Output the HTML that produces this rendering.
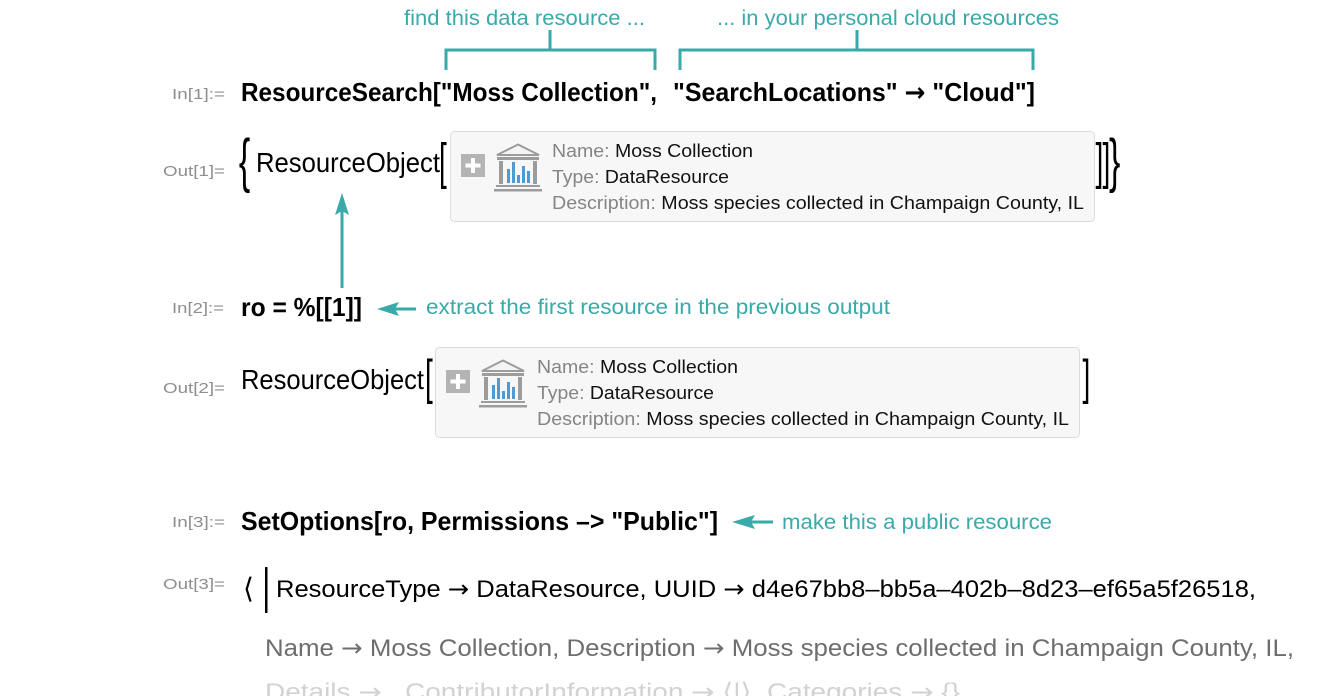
<!DOCTYPE html>
<html>
<head>
<meta charset="utf-8">
<style>
  html,body{margin:0;padding:0;background:#fff;}
  svg{display:block;}
  .lbl{font-family:"Liberation Sans",sans-serif;font-size:15px;fill:#8e8e8e;}
  .code{font-family:"Liberation Sans",sans-serif;font-size:26px;font-weight:bold;fill:#000;}
  .reg{font-family:"Liberation Sans",sans-serif;font-size:28px;fill:#000;}
  .ann{font-family:"Liberation Sans",sans-serif;font-size:21px;fill:#3aa9aa;}
  .box{font-family:"Liberation Sans",sans-serif;font-size:18px;fill:#111;}
  .boxk{fill:#858585;}
  .out{font-family:"Liberation Sans","DejaVu Sans",sans-serif;font-size:24px;}
  .br{font-family:"Liberation Sans",sans-serif;fill:#000;}
  .ar{font-family:"DejaVu Sans",sans-serif;}
</style>
</head>
<body>
<svg width="1340" height="696" viewBox="0 0 1340 696" xmlns="http://www.w3.org/2000/svg">
  <!-- Annotations top -->
  <text class="ann" x="404" y="25" textLength="241" lengthAdjust="spacingAndGlyphs">find this data resource ...</text>
  <text class="ann" x="717" y="25" textLength="342" lengthAdjust="spacingAndGlyphs">... in your personal cloud resources</text>
  <g stroke="#3aa9aa" stroke-width="3" fill="none" stroke-linecap="butt">
    <line x1="550" y1="30" x2="550" y2="50"/>
    <polyline points="446,70 446,50 655,50 655,70"/>
    <line x1="857" y1="30" x2="857" y2="50"/>
    <polyline points="680,70 680,50 1033,50 1033,70"/>
  </g>

  <!-- In[1] -->
  <text class="lbl" x="172" y="99" textLength="53" lengthAdjust="spacingAndGlyphs">In[1]:=</text>
  <text class="code" x="241" y="101" textLength="416" lengthAdjust="spacingAndGlyphs">ResourceSearch["Moss Collection",</text>
  <text class="code" x="673" y="101" textLength="362" lengthAdjust="spacingAndGlyphs">"SearchLocations" <tspan class="ar">→</tspan> "Cloud"]</text>

  <!-- Out[1] -->
  <text class="lbl" x="163" y="176" textLength="62" lengthAdjust="spacingAndGlyphs">Out[1]=</text>
  <text class="br" font-size="34" transform="translate(238.9,180.4) scale(1,1.755)">{</text>
  <text class="reg" x="256" y="172" textLength="184" lengthAdjust="spacingAndGlyphs">ResourceObject</text>
  <text class="br" font-size="28" transform="translate(439,178.7) scale(1,1.78)">[</text>

  <!-- Box 1 -->
  <g id="box1">
    <rect x="450.5" y="131.5" width="644" height="90" rx="4" ry="4" fill="#f7f7f7" stroke="#dcdcdc" stroke-width="1"/>
    <rect x="461" y="154" width="24" height="23" fill="#b4b4b4"/>
    <rect x="471" y="158" width="4" height="15" fill="#fff"/>
    <rect x="465.5" y="163.5" width="15" height="4" fill="#fff"/>
    <polygon points="497,155 518,144.5 539,155" fill="#f4f4f4" stroke="#9c9c9c" stroke-width="2" stroke-linejoin="miter"/>
    <rect x="497" y="157" width="42" height="3" fill="#9c9c9c"/>
    <rect x="499" y="161" width="4" height="23" fill="#9c9c9c"/>
    <rect x="533" y="161" width="4" height="23" fill="#9c9c9c"/>
    <rect x="507" y="169" width="3" height="14" fill="#4a9bd6"/>
    <rect x="512" y="162" width="3" height="21" fill="#4a9bd6"/>
    <rect x="517" y="175" width="3" height="8" fill="#4a9bd6"/>
    <rect x="522" y="166" width="3" height="17" fill="#4a9bd6"/>
    <rect x="527" y="171" width="3" height="12" fill="#4a9bd6"/>
    <rect x="496" y="185" width="44" height="2" fill="#9c9c9c"/>
    <rect x="494" y="189" width="48" height="2.5" fill="#9c9c9c"/>
    <text class="box" x="552" y="157" textLength="201" lengthAdjust="spacingAndGlyphs"><tspan class="boxk">Name:</tspan> Moss Collection</text>
    <text class="box" x="552" y="183" textLength="177" lengthAdjust="spacingAndGlyphs"><tspan class="boxk">Type:</tspan> DataResource</text>
    <text class="box" x="552" y="209" textLength="532" lengthAdjust="spacingAndGlyphs"><tspan class="boxk">Description:</tspan> Moss species collected in Champaign County, IL</text>
  </g>
  <text class="br" font-size="28" transform="translate(1095.5,178.7) scale(1,1.78)">]</text>
  <text class="br" font-size="28" transform="translate(1102.5,178.7) scale(1,1.78)">]</text>
  <text class="br" font-size="34" transform="translate(1109,180.4) scale(1,1.755)">}</text>

  <!-- Up arrow -->
  <rect x="340.5" y="210" width="3" height="78" fill="#3aa9aa"/>
  <polygon points="342,193 349,215 342,211 335,215" fill="#3aa9aa"/>

  <!-- In[2] -->
  <text class="lbl" x="172" y="313" textLength="52" lengthAdjust="spacingAndGlyphs">In[2]:=</text>
  <text class="code" x="241" y="316" textLength="121" lengthAdjust="spacingAndGlyphs">ro = %[[1]]</text>
  <rect x="394" y="307.5" width="22" height="3" fill="#3aa9aa"/>
  <polygon points="377,309 399,302 395,309 399,316" fill="#3aa9aa"/>
  <text class="ann" x="426" y="314" textLength="464" lengthAdjust="spacingAndGlyphs">extract the first resource in the previous output</text>

  <!-- Out[2] -->
  <text class="lbl" x="163" y="393" textLength="62" lengthAdjust="spacingAndGlyphs">Out[2]=</text>
  <text class="reg" x="241" y="389" textLength="183" lengthAdjust="spacingAndGlyphs">ResourceObject</text>
  <text class="br" font-size="28" transform="translate(425,393.9) scale(1,1.74)">[</text>
  <use href="#box1" transform="translate(-15,216)"/>
  <text class="br" font-size="28" transform="translate(1082.5,393.9) scale(1,1.74)">]</text>

  <!-- In[3] -->
  <text class="lbl" x="172" y="527" textLength="53" lengthAdjust="spacingAndGlyphs">In[3]:=</text>
  <text class="code" x="241" y="530" textLength="477" lengthAdjust="spacingAndGlyphs">SetOptions[ro, Permissions –&gt; "Public"]</text>
  <rect x="751" y="520.5" width="22" height="3" fill="#3aa9aa"/>
  <polygon points="732,522 755,515 751,522 755,529" fill="#3aa9aa"/>
  <text class="ann" x="782" y="529" textLength="270" lengthAdjust="spacingAndGlyphs">make this a public resource</text>

  <!-- Out[3] -->
  <text class="lbl" x="163" y="589" textLength="62" lengthAdjust="spacingAndGlyphs">Out[3]=</text>
  <text x="243" y="598" font-family="DejaVu Sans, sans-serif" font-size="28" fill="#000">⟨</text>
  <rect x="265" y="567" width="2.5" height="46" fill="#000"/>
  <text class="out" x="276" y="597" fill="#000" textLength="980" lengthAdjust="spacingAndGlyphs">ResourceType <tspan class="ar">→</tspan> DataResource, UUID <tspan class="ar">→</tspan> d4e67bb8–bb5a–402b–8d23–ef65a5f26518,</text>
  <text class="out" x="265" y="656" fill="#6e6e6e" textLength="1029" lengthAdjust="spacingAndGlyphs">Name <tspan class="ar">→</tspan> Moss Collection, Description <tspan class="ar">→</tspan> Moss species collected in Champaign County, IL,</text>
  <text class="out" x="265" y="700" fill="#d2d2d2" textLength="695" lengthAdjust="spacingAndGlyphs">Details <tspan class="ar">→</tspan> , ContributorInformation <tspan class="ar">→</tspan> ⟨|⟩, Categories <tspan class="ar">→</tspan> {}</text>
</svg>
</body>
</html>
